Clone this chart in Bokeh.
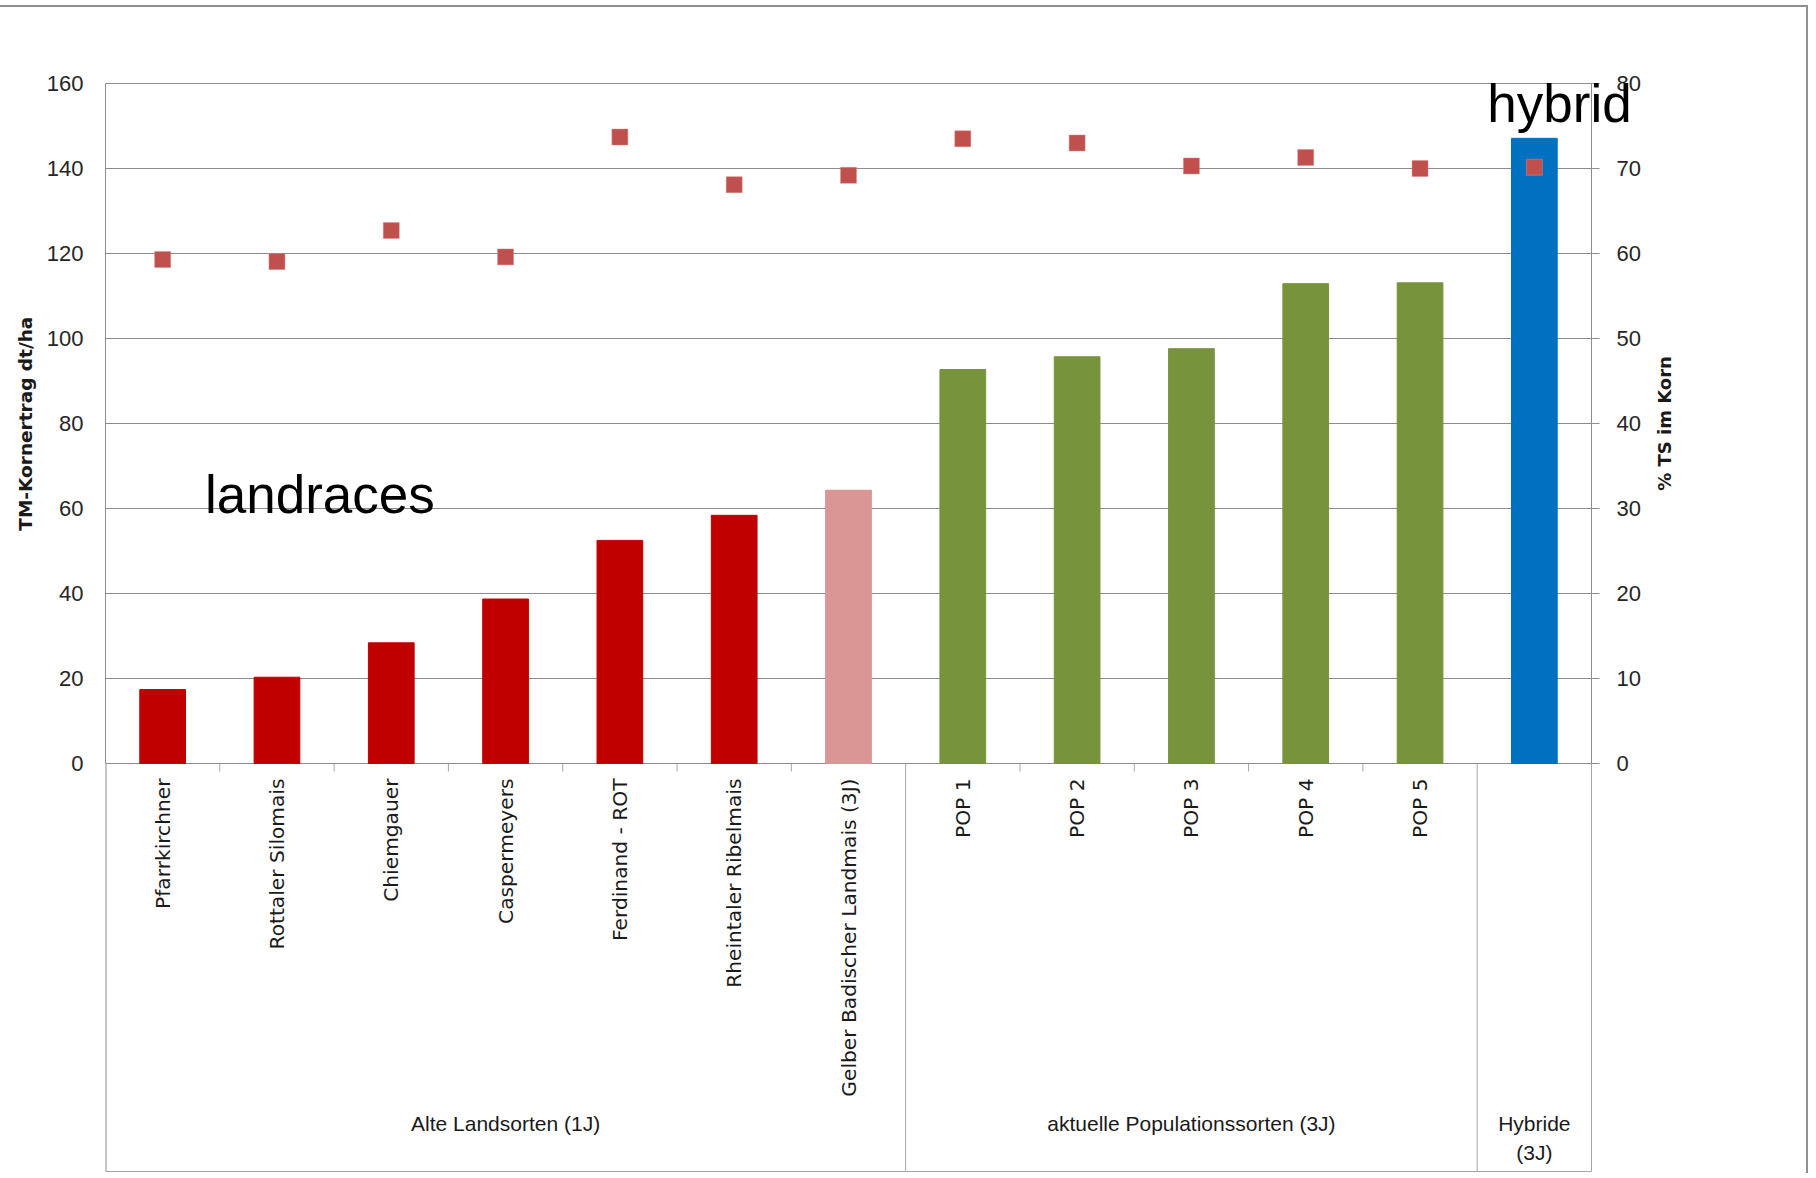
import math
from bokeh.plotting import figure
from bokeh.models import Range1d, LinearAxis, FixedTicker, ColumnDataSource, Label, Title
from bokeh.embed import file_html
from bokeh.resources import INLINE
from bokeh.core.properties import value

# ---------------- data ----------------
categories = ["Pfarrkirchner", "Rottaler Silomais", "Chiemgauer", "Caspermeyers",
              "Ferdinand - ROT", "Rheintaler Ribelmais", "Gelber Badischer Landmais (3J)",
              "POP 1", "POP 2", "POP 3", "POP 4", "POP 5", ""]
yield_dt_ha = [17.4, 20.3, 28.4, 38.7, 52.5, 58.4, 64.3, 92.7, 95.7, 97.6, 112.9, 113.1, 147.1]
ts_percent = [59.3, 59.05, 62.7, 59.6, 73.7, 68.1, 69.2, 73.5, 73.0, 70.3, 71.3, 70.0, 70.15]
groups = ["Alte Landsorten (1J)", "aktuelle Populationssorten (3J)", "Hybride\n(3J)"]
group_sizes = [7, 5, 1]
left_ticks = [0, 20, 40, 60, 80, 100, 120, 140, 160]
right_ticks = [0, 10, 20, 30, 40, 50, 60, 70, 80]
left_title = "TM-Kornertrag dt/ha"
right_title = "% TS im Korn"
annotations = ["landraces", "hybrid"]
annot_x = [0.87, 12.72]
annot_y = [63.3, 155.3]

# ---------------- styles / layout (pixels) ----------------
bar_colors = ["#C00000"] * 6 + ["#D99694"] + ["#77933C"] * 5 + ["#0070C0"]
GRID = "#8c8c8c"
LINE = "#a6a6a6"
TICKFONT = "Liberation Sans"

n = len(categories)
xs = [i + 0.5 for i in range(n)]

W, H = 1808, 1168          # figure size (page offset 7 px from the CSS top margin/border)
TOP_OFF = 7
X0, XN = 105, 1591         # page x of category 0 edge and of the right axis
Y160, Y0 = 83, 763         # page y of 160 and of 0
BOTTOM = 1171              # page y of bottom frame line
FRAME_L, FRAME_R = X0, 1692
FRAME_T, FRAME_B = 55, 1175
RTITLE_X = 1664            # page x of the right axis title centre
TITLE_CENTER_Y = (Y160 + Y0) / 2

ppx = (XN - X0) / n
ppy = (Y0 - Y160) / left_ticks[-1]
xmax = n + (FRAME_R - XN) / ppx
ytop = left_ticks[-1] + (Y160 - FRAME_T) / ppy
ybot = -(FRAME_B - Y0) / ppy
yline = -(BOTTOM - Y0) / ppy
ratio = right_ticks[-1] / left_ticks[-1]

src = ColumnDataSource(dict(x=xs, y=yield_dt_ha, ts=ts_percent, color=bar_colors))

p = figure(width=W, height=H, x_range=Range1d(0, xmax), y_range=Range1d(ybot, ytop),
           x_axis_type=None, output_backend="svg", toolbar_location=None,
           min_border_left=FRAME_L, min_border_right=W - FRAME_R,
           min_border_top=FRAME_T - TOP_OFF, min_border_bottom=H - (FRAME_B - TOP_OFF))
p.styles = {"margin-top": "5px", "border-top": "2px solid #8f8f8f", "border-right": "2px solid #8f8f8f"}
p.extra_y_ranges = {"ts": Range1d(ybot * ratio, ytop * ratio)}
p.outline_line_color = None
p.xgrid.visible = False

# horizontal gridlines, limited to the category span
if "cross_bounds" in p.ygrid[0].properties():
    p.ygrid.ticker = FixedTicker(ticks=left_ticks)
    p.ygrid.grid_line_color = GRID
    p.ygrid.grid_line_width = 1
    p.ygrid.cross_bounds = (0, n)
else:
    p.ygrid.visible = False
    p.segment(x0=[0] * len(left_ticks), y0=left_ticks, x1=[n] * len(left_ticks), y1=left_ticks,
              line_color=GRID, line_width=1)

p.vbar(x="x", top="y", width=0.4, color="color", source=src)
p.scatter(x="x", y="ts", marker="square", size=16, fill_color="#C0504D",
          line_color="#d98a88", line_width=0.5, y_range_name="ts", source=src)

ya = p.yaxis[0]
ya.bounds = (0, left_ticks[-1])
ya.ticker = FixedTicker(ticks=left_ticks)
ya.major_label_text_font = TICKFONT
ya.major_label_text_font_size = "22px"
ya.major_label_text_color = "#262626"
ya.major_label_standoff = 22
ya.major_tick_out = 0
ya.major_tick_in = 0
ya.minor_tick_out = 0
ya.minor_tick_in = 0
ya.axis_line_color = GRID

# left axis title, centred on the value area (0..160)
title_len = 11.586 * 18.5  # approx. rendered length of the bold title
lt = Title(text=left_title, align="left", offset=(FRAME_B - TITLE_CENTER_Y) - title_len / 2,
           text_font="DejaVu Sans", text_font_style="bold", text_font_size="18.5px",
           text_color="#1a1a1a", standoff=16)
p.add_layout(lt, "left")

ra = LinearAxis(y_range_name="ts", ticker=FixedTicker(ticks=right_ticks))
ra.fixed_location = n
ra.bounds = (0, right_ticks[-1])
ra.major_label_text_font = TICKFONT
ra.major_label_text_font_size = "22px"
ra.major_label_text_color = "#262626"
ra.major_label_standoff = 17
ra.major_tick_out = 8
ra.major_tick_in = 0
ra.minor_tick_out = 0
ra.minor_tick_in = 0
ra.axis_line_color = GRID
ra.major_tick_line_color = GRID
p.add_layout(ra, "right")

# right axis title (reads bottom to top), centred on the value area
p.text(x=[n + (RTITLE_X - XN) / ppx], y=[(Y0 - TITLE_CENTER_Y) / ppy], text=[right_title],
       angle=math.pi / 2, text_align="center", text_baseline="middle",
       text_font=value("DejaVu Sans"), text_font_style="bold", text_font_size="18px",
       text_color="#1a1a1a")

for t, ax_, ay_ in zip(annotations, annot_x, annot_y):
    align = "left" if t == "landraces" else "center"
    p.add_layout(Label(x=ax_, y=ay_, text=t, text_font="Liberation Sans", text_font_size="53px",
                       text_align=align, text_baseline="middle", text_color="#000000"))

# ---------------- category area ----------------
lab_x = [x for x, c in zip(xs, categories) if c]
lab_t = [c for c in categories if c]
p.text(x=lab_x, y=[0] * len(lab_x), text=lab_t, angle=math.pi / 2, text_align="right",
       text_baseline="middle", y_offset=15, text_font=value("DejaVu Sans"),
       text_font_size="20.2px", text_color="#1a1a1a")

bounds = []
s = 0
for g in group_sizes:
    bounds.append((s, s + g))
    s += g
g_centers = [(a + b) / 2 for a, b in bounds]
p.text(x=g_centers, y=[0] * len(groups), text=groups, text_align="center", text_baseline="top",
       y_offset=348, text_font=value(TICKFONT), text_font_size="21px",
       text_color="#1a1a1a", text_line_height=1.3)

# frame of the category area: left/right edges, group separators, bottom line
edges = [b for a, b in bounds]
p.segment(x0=edges, y0=[0] * len(edges), x1=edges, y1=[yline] * len(edges),
          line_color=LINE, line_width=1)
p.segment(x0=[0], y0=[0], x1=[0], y1=[yline], line_color=GRID, line_width=2)
p.segment(x0=[0], y0=[yline], x1=[n], y1=[yline], line_color=LINE, line_width=1.2)
# short ticks between categories
small = [i for i in range(1, n) if i not in edges]
p.segment(x0=small, y0=[0] * len(small), x1=small, y1=[-8 / ppy] * len(small),
          line_color=LINE, line_width=1)

open("out.html", "w").write(file_html(p, INLINE))
